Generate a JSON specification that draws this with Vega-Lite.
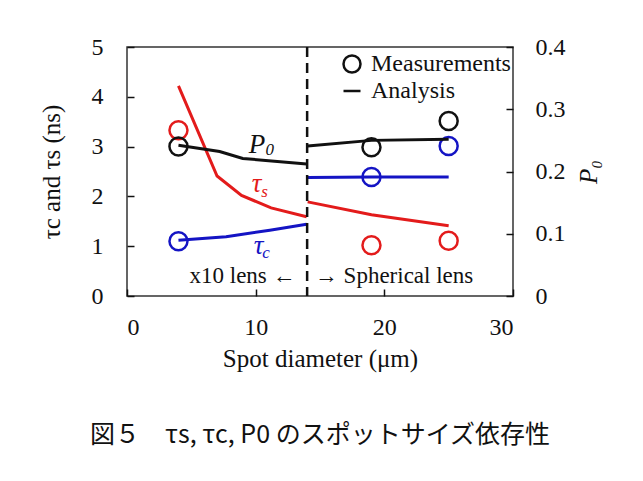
{
  "$schema": "https://vega.github.io/schema/vega-lite/v6.json",
  "width": 386,
  "height": 249,
  "autosize": {"type": "none"},
  "padding": {"left": 127, "top": 47, "right": 130, "bottom": 185},
  "background": "white",
  "title": {
    "text": "図５　τs, τc, P0 のスポットサイズ依存性",
    "orient": "bottom",
    "anchor": "middle",
    "font": "Noto Sans CJK JP",
    "fontSize": 25,
    "fontWeight": "normal",
    "color": "#111",
    "offset": 52
  },
  "datasets": {
    "lines": [
      {"x": 4, "v": 4.22, "series": "tau_s", "seg": "a"},
      {"x": 7, "v": 2.41, "series": "tau_s", "seg": "a"},
      {"x": 8.9, "v": 2.02, "series": "tau_s", "seg": "a"},
      {"x": 11.2, "v": 1.77, "series": "tau_s", "seg": "a"},
      {"x": 13.96, "v": 1.59, "series": "tau_s", "seg": "a"},
      {"x": 14.04, "v": 1.89, "series": "tau_s", "seg": "b"},
      {"x": 19, "v": 1.63, "series": "tau_s", "seg": "b"},
      {"x": 25, "v": 1.41, "series": "tau_s", "seg": "b"},
      {"x": 4, "v": 1.12, "series": "tau_c", "seg": "a"},
      {"x": 7.7, "v": 1.19, "series": "tau_c", "seg": "a"},
      {"x": 11.1, "v": 1.32, "series": "tau_c", "seg": "a"},
      {"x": 13.96, "v": 1.44, "series": "tau_c", "seg": "a"},
      {"x": 14.04, "v": 2.38, "series": "tau_c", "seg": "b"},
      {"x": 19, "v": 2.39, "series": "tau_c", "seg": "b"},
      {"x": 25, "v": 2.39, "series": "tau_c", "seg": "b"}
    ],
    "p0line": [
      {"x": 4, "p": 0.242, "series": "P0", "seg": "a"},
      {"x": 7.2, "p": 0.232, "series": "P0", "seg": "a"},
      {"x": 9, "p": 0.221, "series": "P0", "seg": "a"},
      {"x": 13.96, "p": 0.212, "series": "P0", "seg": "a"},
      {"x": 14.04, "p": 0.241, "series": "P0", "seg": "b"},
      {"x": 19, "p": 0.25, "series": "P0", "seg": "b"},
      {"x": 25, "p": 0.252, "series": "P0", "seg": "b"}
    ],
    "meas": [
      {"x": 4, "v": 3.33, "series": "tau_s", "kind": "Measurements"},
      {"x": 19, "v": 1.02, "series": "tau_s", "kind": "Measurements"},
      {"x": 25, "v": 1.11, "series": "tau_s", "kind": "Measurements"},
      {"x": 4, "v": 1.1, "series": "tau_c", "kind": "Measurements"},
      {"x": 19, "v": 2.39, "series": "tau_c", "kind": "Measurements"},
      {"x": 25, "v": 3.01, "series": "tau_c", "kind": "Measurements"}
    ],
    "p0meas": [
      {"x": 4, "p": 0.24, "series": "P0", "kind": "Measurements"},
      {"x": 19, "p": 0.239, "series": "P0", "kind": "Measurements"},
      {"x": 25, "p": 0.281, "series": "P0", "kind": "Measurements"}
    ],
    "bigLabels": [
      {"x": 10.1, "v": 2.87, "t": "P", "series": "P0"},
      {"x": 10.07, "v": 2.09, "t": "τ", "series": "tau_s"},
      {"x": 10.22, "v": 0.85, "t": "τ", "series": "tau_c"}
    ],
    "subLabels": [
      {"x": 11.1, "v": 2.83, "t": "0", "series": "P0"},
      {"x": 10.69, "v": 1.99, "t": "s", "series": "tau_s"},
      {"x": 10.8, "v": 0.77, "t": "c", "series": "tau_c"}
    ],
    "lensLabels": [
      {"x": 13.1, "v": 0.27, "t": "x10 lens ←", "side": "left"},
      {"x": 14.6, "v": 0.27, "t": "→ Spherical lens", "side": "right"}
    ]
  },
  "encoding": {
    "x": {
      "field": "x",
      "type": "quantitative",
      "scale": {"domain": [0, 30], "nice": false, "zero": false},
      "axis": {"values": [0, 10, 20, 30], "title": "Spot diameter (μm)", "offset": -7, "labelPadding": 19, "titlePadding": 7}
    }
  },
  "layer": [
    {
      "encoding": {
        "y": {
          "field": "v",
          "type": "quantitative",
          "scale": {"domain": [0, 5], "nice": false},
          "axis": {"orient": "left", "values": [0, 1, 2, 3, 4, 5], "title": "τc and τs (ns)", "offset": -7, "labelPadding": 24, "titlePadding": 27}
        },
        "color": {
          "field": "series",
          "type": "nominal",
          "scale": {"domain": ["P0", "tau_s", "tau_c"], "range": ["#111111", "#e31b1b", "#1414c4"]},
          "legend": null
        }
      },
      "layer": [
        {
          "data": {"name": "lines"},
          "mark": {"type": "line", "strokeWidth": 3},
          "encoding": {"detail": {"field": "seg"}}
        },
        {
          "data": {"name": "meas"},
          "mark": {"type": "point", "filled": false, "strokeWidth": 2.5, "size": 324, "opacity": 1},
          "encoding": {
            "shape": {
              "field": "kind",
              "type": "nominal",
              "scale": {"domain": ["Measurements", "Analysis"], "range": ["circle", "stroke"]},
              "legend": {
                "orient": "none",
                "legendX": 213,
                "legendY": 5,
                "title": null,
                "padding": 0,
                "labelFont": "Liberation Serif",
                "labelFontSize": 24,
                "labelColor": "#111",
                "labelOffset": 7,
                "symbolSize": 289,
                "symbolStrokeWidth": 2.5,
                "symbolStrokeColor": "#111",
                "symbolFillColor": "transparent",
                "rowPadding": 1
              }
            }
          }
        },
        {
          "data": {"name": "bigLabels"},
          "mark": {"type": "text", "font": "Liberation Serif", "fontStyle": "italic", "fontSize": 27, "align": "center", "baseline": "alphabetic"},
          "encoding": {"text": {"field": "t"}}
        },
        {
          "data": {"name": "subLabels"},
          "mark": {"type": "text", "font": "Liberation Serif", "fontStyle": "italic", "fontSize": 17, "align": "center", "baseline": "alphabetic"},
          "encoding": {"text": {"field": "t"}}
        },
        {
          "data": {"name": "lensLabels"},
          "transform": [{"filter": "datum.side == 'left'"}],
          "mark": {"type": "text", "font": "Liberation Serif", "fontSize": 23, "align": "right", "baseline": "alphabetic"},
          "encoding": {"text": {"field": "t"}, "color": {"value": "#111"}}
        },
        {
          "data": {"name": "lensLabels"},
          "transform": [{"filter": "datum.side == 'right'"}],
          "mark": {"type": "text", "font": "Liberation Serif", "fontSize": 23, "align": "left", "baseline": "alphabetic"},
          "encoding": {"text": {"field": "t"}, "color": {"value": "#111"}}
        },
        {
          "data": {"values": [{"x": 14}]},
          "mark": {"type": "rule", "strokeDash": [10, 6], "strokeWidth": 2.5},
          "encoding": {"x": {"field": "x", "type": "quantitative"}, "y": null, "color": {"value": "#111"}}
        }
      ]
    },
    {
      "encoding": {
        "y": {
          "field": "p",
          "type": "quantitative",
          "scale": {"domain": [0, 0.4], "nice": false},
          "axis": {"orient": "right", "values": [0, 0.1, 0.2, 0.3, 0.4], "format": "~g", "title": "P₀", "titleFontStyle": "italic", "titleAngle": 270, "offset": -7, "labelPadding": 22, "titlePadding": 36}
        },
        "color": {"value": "#111"}
      },
      "layer": [
        {
          "data": {"name": "p0line"},
          "mark": {"type": "line", "strokeWidth": 3},
          "encoding": {"detail": {"field": "seg"}}
        },
        {
          "data": {"name": "p0meas"},
          "mark": {"type": "point", "filled": false, "strokeWidth": 2.5, "size": 324, "opacity": 1},
          "encoding": {"shape": {"field": "kind", "type": "nominal"}}
        }
      ]
    }
  ],
  "resolve": {"scale": {"y": "independent"}},
  "config": {
    "view": {"stroke": "#333", "strokeWidth": 1.5},
    "axis": {
      "labelFont": "Liberation Serif",
      "labelFontSize": 24,
      "labelColor": "#111",
      "titleFont": "Liberation Serif",
      "titleFontSize": 25,
      "titleFontWeight": "normal",
      "titleColor": "#111",
      "domain": false,
      "grid": false,
      "ticks": true,
      "tickSize": 7,
      "tickWidth": 1.5,
      "tickColor": "#111",
      "zindex": 1
    }
  }
}
